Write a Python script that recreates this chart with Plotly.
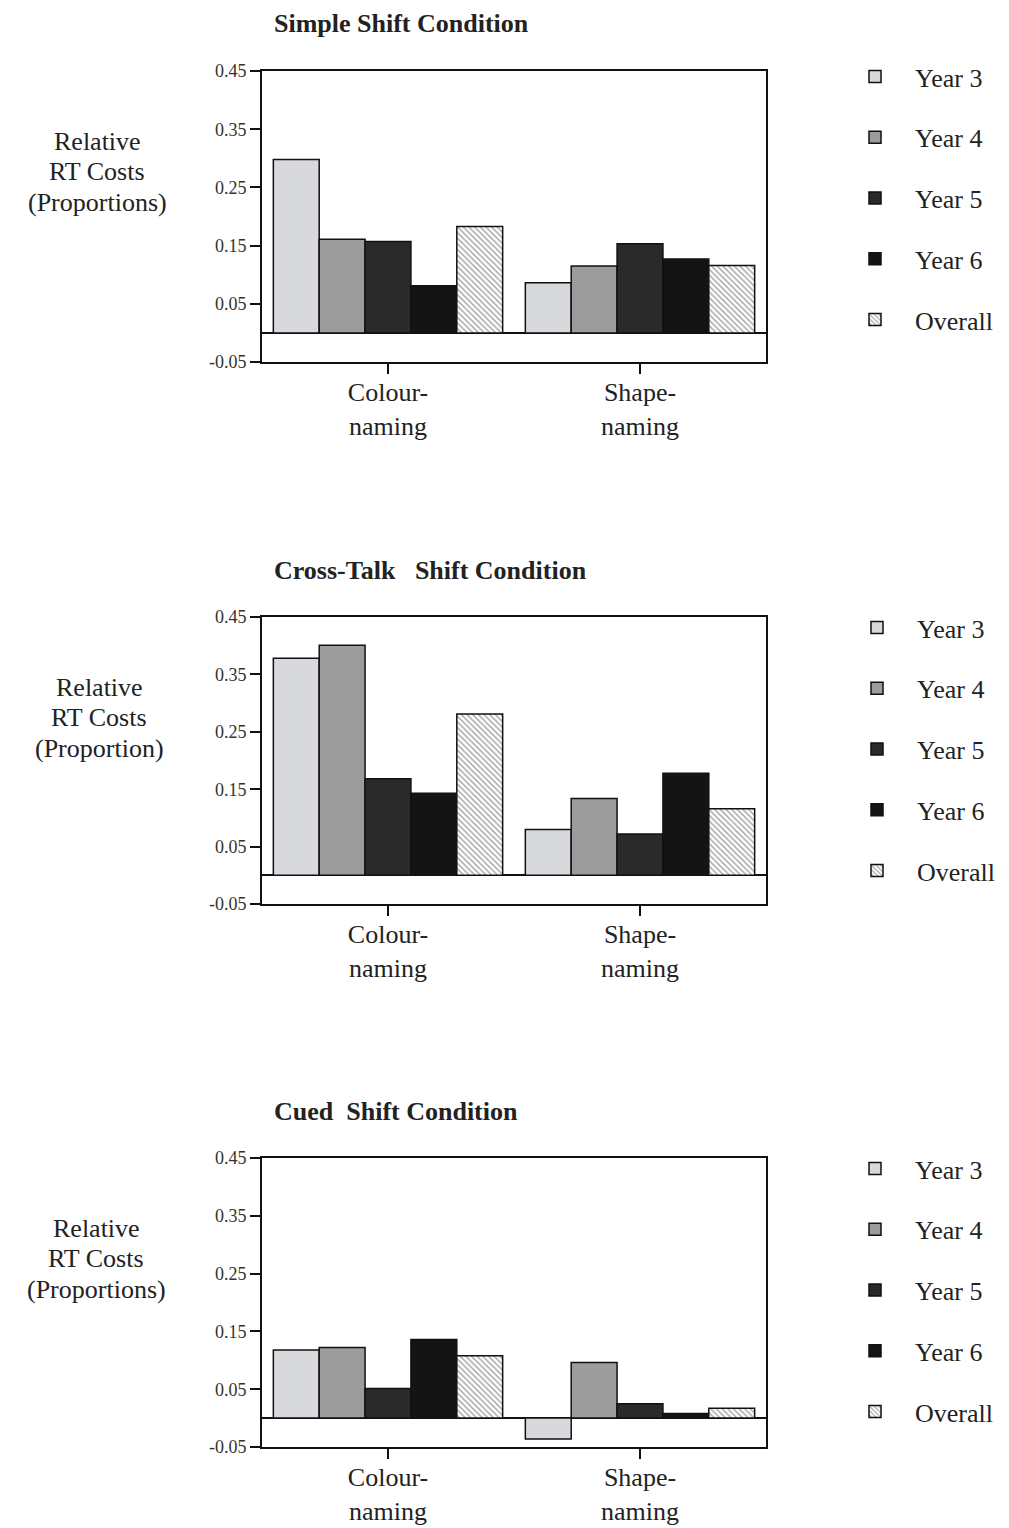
import plotly.graph_objects as go

categories = ["Colour-naming", "Shape-naming"]
tick_text = ["Colour-<br>naming", "Shape-<br>naming"]
series_names = ["Year 3", "Year 4", "Year 5", "Year 6", "Overall"]

simple_shift = {
    "Year 3": [0.298, 0.086],
    "Year 4": [0.161, 0.115],
    "Year 5": [0.157, 0.153],
    "Year 6": [0.081, 0.127],
    "Overall": [0.183, 0.116],
}
crosstalk_shift = {
    "Year 3": [0.378, 0.080],
    "Year 4": [0.401, 0.134],
    "Year 5": [0.168, 0.072],
    "Year 6": [0.143, 0.178],
    "Overall": [0.281, 0.116],
}
cued_shift = {
    "Year 3": [0.118, -0.036],
    "Year 4": [0.122, 0.096],
    "Year 5": [0.051, 0.025],
    "Year 6": [0.136, 0.008],
    "Overall": [0.108, 0.017],
}

titles = ["Simple Shift Condition", "Cross-Talk&nbsp;&nbsp;&nbsp;Shift Condition", "Cued&nbsp;&nbsp;Shift Condition"]
ylabel_lines = [
    ["Relative", "RT Costs", "(Proportions)"],
    ["Relative", "RT Costs", "(Proportion)"],
    ["Relative", "RT Costs", "(Proportions)"],
]
y_tickvals = [-0.05, 0.05, 0.15, 0.25, 0.35, 0.45]
y_ticktext = ["-0.05", "0.05", "0.15", "0.25", "0.35", "0.45"]

colors = {"Year 3": "#d8d9dc", "Year 4": "#9c9c9c", "Year 5": "#2a2a2a", "Year 6": "#141414", "Overall": "#ffffff"}

FONT = "Liberation Serif"
W, H = 1009, 1528

# layout geometry (pixels)
x_left, x_right = 262, 766
panels = [(71, 362), (617, 904), (1158, 1447)]
legend_tops = [53, 604, 1145]
legend_x = [835, 837, 835]
ylabel_x = [97, 99, 96]

fig = go.Figure()
datasets = [simple_shift, crosstalk_shift, cued_shift]
for i, data in enumerate(datasets):
    suffix = "" if i == 0 else str(i + 1)
    leg = "legend" if i == 0 else "legend" + str(i + 1)
    for name in series_names:
        marker = dict(color=colors[name], line=dict(color="#111111", width=1.5))
        if name == "Overall":
            marker["pattern"] = dict(shape="\\", fgcolor="#444444", bgcolor="#ffffff", size=4, solidity=0.35)
        fig.add_trace(go.Bar(
            x=categories, y=data[name], name=name, marker=marker,
            xaxis="x" + suffix, yaxis="y" + suffix,
            legend=leg, legendgroup=f"{name}{i}", showlegend=True,
        ))

layout = dict(
    width=W, height=H,
    margin=dict(l=0, r=0, t=0, b=0, autoexpand=False),
    paper_bgcolor="white", plot_bgcolor="white",
    barmode="group", bargap=0.09, bargroupgap=0,
    font=dict(family=FONT, color="#222222"),
)

annotations = []
for i, (top, bottom) in enumerate(panels):
    suffix = "" if i == 0 else str(i + 1)
    dom_y = [1 - bottom / H, 1 - top / H]
    layout["xaxis" + suffix] = dict(
        domain=[x_left / W, x_right / W], anchor="y" + suffix, automargin=False,
        showline=True, mirror=True, linecolor="#111111", linewidth=2,
        ticks="outside", ticklen=10, tickwidth=2, tickcolor="#111111",
        tickvals=categories, ticktext=tick_text, ticklabelstandoff=-4,
        tickfont=dict(family=FONT, size=26, color="#222222"),
        showgrid=False, fixedrange=True,
    )
    layout["yaxis" + suffix] = dict(
        domain=dom_y, anchor="x" + suffix, automargin=False,
        range=[-0.05, 0.45],
        showline=True, mirror=True, linecolor="#111111", linewidth=2,
        ticks="outside", ticklen=10, tickwidth=2, tickcolor="#111111",
        tickvals=y_tickvals, ticktext=y_ticktext,
        tickfont=dict(family=FONT, size=18, color="#333333"),
        showgrid=False, zeroline=True, zerolinecolor="#111111", zerolinewidth=1.5,
        fixedrange=True,
    )
    leg = "legend" if i == 0 else "legend" + str(i + 1)
    layout[leg] = dict(
        x=legend_x[i] / W, y=1 - legend_tops[i] / H, xanchor="left", yanchor="top",
        font=dict(family=FONT, size=26, color="#222222"),
        tracegroupgap=24, itemwidth=70, bgcolor="rgba(0,0,0,0)", borderwidth=0,
    )
    annotations.append(dict(
        text="<b>" + titles[i] + "</b>", xref="paper", yref="paper",
        x=272 / W, y=1 - (top - 47) / H, xanchor="left", yanchor="middle",
        showarrow=False, font=dict(family=FONT, size=26, color="#222222"),
    ))
    for k, line in enumerate(ylabel_lines[i]):
        annotations.append(dict(
            text=line, xref="paper", yref="paper",
            x=ylabel_x[i] / W, y=1 - (top + 70 + 30.5 * k) / H,
            xanchor="center", yanchor="middle",
            showarrow=False, font=dict(family=FONT, size=26, color="#222222"),
        ))

layout["annotations"] = annotations
fig.update_layout(**layout)
fig.write_html(
    "out.html",
    config={"displayModeBar": False},
    post_script="document.body.style.margin='0';document.body.style.overflow='hidden';",
)
